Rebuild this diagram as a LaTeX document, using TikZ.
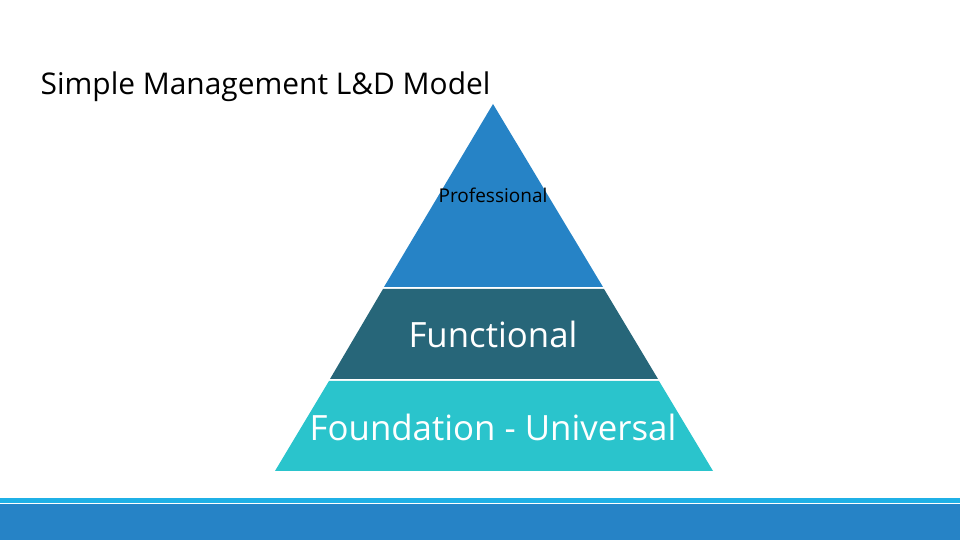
\documentclass[tikz,border=0pt]{standalone}
\usepackage{fontspec}
\setmainfont{Open Sans}
\usetikzlibrary{calc,positioning}
\definecolor{topblue}{HTML}{2683C6}
\definecolor{midteal}{HTML}{276679}
\definecolor{lowcyan}{HTML}{2AC4CC}
\definecolor{barlight}{HTML}{1FB0E6}
\tikzset{
  % pyramid tiers
  tiertop/.style={fill=topblue},
  tiermid/.style={fill=midteal},
  tierlow/.style={fill=lowcyan},
  % labels
  smalllabel/.style={inner sep=0pt,font=\fontsize{5.4}{6}\selectfont,text=black},
  biglabel/.style={inner sep=0pt,font=\fontsize{9.9}{11}\selectfont,text=white},
  heading/.style={inner sep=0pt,anchor=base west,font=\fontsize{8.5}{10}\selectfont},
}
\begin{document}
\begin{tikzpicture}[x=0.01cm,y=-0.01cm]
  \useasboundingbox (0,0) rectangle (960,540);
  % footer band
  \fill[barlight] (0,498) rectangle (960,503);
  \fill[topblue] (0,504) rectangle (960,540);
  % tiers
  \coordinate (apex) at (493,104);
  \fill[tiertop] (apex) -- (603,287) -- (384,287) -- cycle;
  \fill[tiermid] (383,289) -- (604,289) -- (658,379) -- (330,379) -- cycle;
  \fill[tierlow] (329,381) -- (659,381) -- (713,471) -- (275,471) -- cycle;
  \node[smalllabel] (prof) at (493,195) {Professional};
  \node[biglabel] (func) at (493,334) {Functional};
  \node[biglabel] (found) at (493,427) {Foundation - Universal};
  \node[heading] (title) at (40,95) {Simple Management L\&D Model};
\end{tikzpicture}
\end{document}
